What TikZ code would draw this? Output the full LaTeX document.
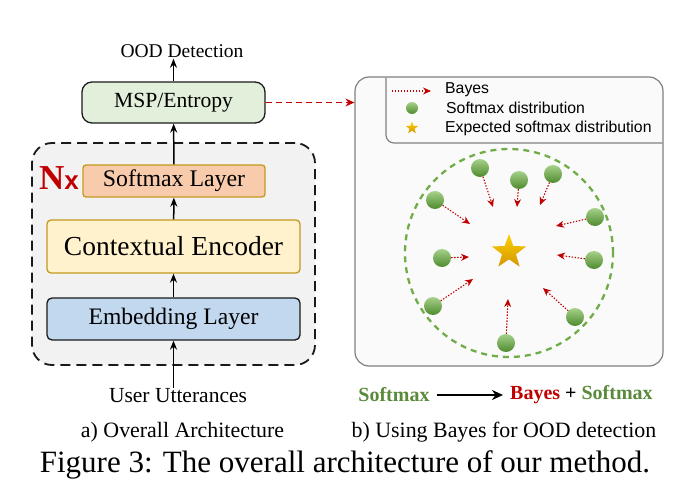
\documentclass[tikz,border=0pt]{standalone}
\usepackage{fontspec}
\setmainfont{Liberation Serif}
\setsansfont{Liberation Sans}
\usepackage{tikz}
\usetikzlibrary{arrows.meta,positioning,shapes.geometric}
\definecolor{archink}{HTML}{1A1A1A}
\definecolor{archgold}{HTML}{C49A1E}
\definecolor{archmsp}{HTML}{E2EFDA}
\definecolor{archsoft}{HTML}{F8CBAD}
\definecolor{archenc}{HTML}{FFF2CC}
\definecolor{archemb}{HTML}{C2D8EE}
\definecolor{archpanel}{HTML}{F2F2F2}
\definecolor{bayred}{HTML}{C00000}
\definecolor{baygreen}{HTML}{70AD47}
\definecolor{baytext}{HTML}{5A8A3C}
\definecolor{bayframe}{HTML}{808080}
\definecolor{ballhi}{HTML}{A6D18A}
\definecolor{balllo}{HTML}{4E8A2E}
\definecolor{starhi}{HTML}{FFD000}
\definecolor{starlo}{HTML}{D39600}
\tikzset{
  lay/.style={align=center, inner sep=0pt, line width=1.3pt},
  msp/.style={lay, draw=archink, fill=archmsp, rounded corners=10pt, minimum width=183pt, minimum height=41pt, font=\fontsize{21.6}{24}\selectfont},
  smx/.style={lay, draw=archgold, fill=archsoft, rounded corners=3pt, minimum width=182pt, minimum height=32pt, font=\fontsize{23.8}{26}\selectfont},
  enc/.style={lay, draw=archgold, fill=archenc, rounded corners=4pt, minimum width=253pt, minimum height=53pt, font=\fontsize{27.5}{30}\selectfont},
  emb/.style={lay, draw=archink, fill=archemb, rounded corners=5pt, minimum width=253pt, minimum height=42pt, font=\fontsize{23.6}{26}\selectfont},
  stack/.style={draw=archink, fill=archpanel, line width=1.8pt, dash pattern=on 10pt off 6pt, rounded corners=20pt, minimum width=283pt, minimum height=222pt},
  txt/.style={inner sep=1pt, font=\fontsize{21}{24}\selectfont},
  arr/.style={-{Stealth[length=9pt, width=7pt]}, line width=1.5pt, color=black},
  bayes/.style={-{Stealth[length=8pt, width=7pt]}, line width=1.1pt, dash pattern=on 1.4pt off 1.6pt, color=bayred},
  ball/.style={circle, inner sep=0pt, minimum size=18pt, top color=ballhi, bottom color=balllo},
  gold/.style={star, star points=5, star point ratio=2.45, inner sep=0pt, minimum size=36pt, top color=starhi, bottom color=starlo},
  lgd/.style={anchor=west, inner sep=0pt, font=\sffamily\fontsize{15.8}{18}\selectfont},
}
\begin{document}
\begin{tikzpicture}[x=1pt, y=-1pt]
  \useasboundingbox (0,0) rectangle (683,487);
  % a) architecture
  \node[stack] (stk) at (173.5,254) {};
  \node[msp] (msp) at (173.5,102.5) {MSP/Entropy};
  \node[smx] (smx) at (174,181) {Softmax Layer};
  \node[enc] (enc) at (173.5,246.5) {Contextual Encoder};
  \node[emb] (emb) at (173.5,319) {Embedding Layer};
  \node[text=bayred, inner sep=0pt] (nx) at (59,178) {{\fontsize{35}{35}\selectfont\bfseries N}{\fontsize{26}{26}\selectfont\sffamily\bfseries x}};
  \node[txt, font=\fontsize{19.5}{22}\selectfont] (ood) at (182,51) {OOD Detection};
  \node[txt, font=\fontsize{21.5}{24}\selectfont] (user) at (178,396) {User Utterances};
  \draw[arr] (user.north -| emb.south) -- (emb.south);
  \draw[arr] (emb) -- (enc);
  \draw[arr] (enc) -- (smx);
  \draw[arr] (smx) -- (msp);
  \draw[arr] (msp.north) -- (msp.north |- ood.south);
  % b) bayes panel
  \node[draw=bayframe, fill=white!98!black, line width=1.2pt, rounded corners=14pt, minimum width=308pt, minimum height=289pt] (panel) at (509,221.5) {};
  \draw[-{Stealth[length=9pt, width=8pt]}, line width=1.8pt, dash pattern=on 6pt off 4pt, color=bayred] (msp.east) -- (msp.east -| panel.west);
  \draw[bayframe, line width=1.2pt, rounded corners=8pt] (386,77.6) |- (662.4,143);
  \coordinate (lga) at (392,91);
  \coordinate (lgb) at (431,91);
  \draw[bayes] (lga) -- (lgb);
  \node[lgd] (lbay) at (445,90) {Bayes};
  \node[ball, minimum size=12pt] (lball) at (412,108) {};
  \node[lgd] (lsoft) at (446,108) {Softmax distribution};
  \node[gold, minimum size=13pt] (lstar) at (412,128) {};
  \node[lgd] (lexp) at (445,128) {Expected softmax distribution};
  \node[circle, draw=baygreen, line width=2.3pt, dash pattern=on 6pt off 5pt, minimum size=208pt] (ring) at (509,253) {};
  \node[gold] (mean) at (509,252) {};
  \foreach \i/\bx/\by/\tx/\ty in {1/480/168/493/207, 2/519/180/517/207, 3/553/174/540/205,
      4/435/200/470/224, 5/595/217/556/226, 6/442/258/469/257, 7/594/260/557/255,
      8/433/306/473/279, 9/575/317/543/288, 10/506/343/508/299} {
    \node[ball] (b\i) at (\bx,\by) {};
    \coordinate (t\i) at (\tx,\ty);
    \draw[bayes] (b\i) -- (t\i);
  }
  % formula and captions
  \node[inner sep=7pt, text=baytext, font=\bfseries\fontsize{20}{22}\selectfont] (sm) at (394,395) {Softmax};
  \node[inner sep=7pt, anchor=west, font=\bfseries\fontsize{20}{22}\selectfont] (bs) at (503,395) {\textcolor{bayred}{Bayes} + \textcolor{baytext}{Softmax}};
  \draw[-{Stealth[length=11pt, width=10pt]}, line width=2pt] (sm) -- (bs);
  \node[txt, font=\fontsize{21.9}{24}\selectfont] (capa) at (182.5,432) {a) Overall Architecture};
  \node[txt, font=\fontsize{21.9}{24}\selectfont] (capb) at (504,432) {b) Using Bayes for OOD detection};
  \node[txt, font=\fontsize{31}{34}\selectfont] (fig) at (345,465) {Figure 3: The overall architecture of our method.};
\end{tikzpicture}
\end{document}
